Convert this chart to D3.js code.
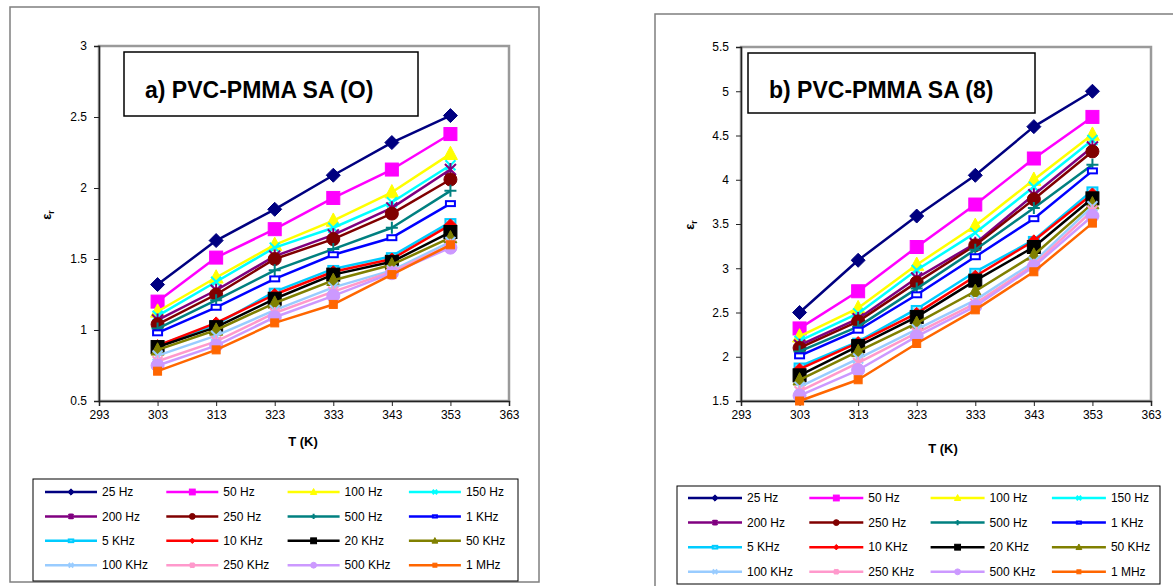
<!DOCTYPE html>
<html><head><meta charset="utf-8">
<script src="https://cdn.jsdelivr.net/npm/d3@7"></script>
<style>
html,body{margin:0;padding:0;background:#fff;}
svg{display:block;font-family:"Liberation Sans",Arial,sans-serif;}
.tick text{font-size:12px;font-family:"Liberation Sans",Arial,sans-serif;fill:#000;}
</style></head>
<body>
<svg id="chart" width="1173" height="586"></svg>
<script>
// ---------- DATA ----------
const temps = [303, 313, 323, 333, 343, 353];
const xTicks = [293, 303, 313, 323, 333, 343, 353, 363];
const yTicksA = [0.5, 1, 1.5, 2, 2.5, 3];
const yTicksB = [1.5, 2, 2.5, 3, 3.5, 4, 4.5, 5, 5.5];
const freqLabels = ["25 Hz","50 Hz","100 Hz","150 Hz","200 Hz","250 Hz","500 Hz","1 KHz",
                    "5 KHz","10 KHz","20 KHz","50 KHz","100 KHz","250 KHz","500 KHz","1 MHz"];
// panel a) PVC-PMMA SA (O): one row per frequency, values at temps
const epsA = [
  [1.32,1.63,1.85,2.09,2.32,2.51],
  [1.20,1.51,1.71,1.93,2.13,2.38],
  [1.13,1.37,1.60,1.77,1.97,2.24],
  [1.10,1.34,1.58,1.72,1.90,2.16],
  [1.07,1.28,1.52,1.67,1.86,2.13],
  [1.04,1.25,1.50,1.64,1.82,2.06],
  [1.01,1.21,1.42,1.57,1.72,1.98],
  [0.98,1.16,1.36,1.53,1.65,1.89],
  [0.89,1.04,1.27,1.43,1.52,1.76],
  [0.89,1.05,1.25,1.41,1.50,1.74],
  [0.88,1.02,1.22,1.39,1.48,1.69],
  [0.86,1.00,1.19,1.35,1.46,1.65],
  [0.82,0.96,1.14,1.30,1.42,1.62],
  [0.78,0.92,1.12,1.27,1.41,1.60],
  [0.75,0.89,1.09,1.24,1.40,1.58],
  [0.71,0.86,1.05,1.18,1.39,1.60]
];
// panel b) PVC-PMMA SA (8)
const epsB = [
  [2.50,3.09,3.59,4.05,4.60,5.00],
  [2.32,2.74,3.24,3.72,4.24,4.71],
  [2.23,2.55,3.04,3.48,4.00,4.51],
  [2.18,2.49,2.98,3.40,3.92,4.45],
  [2.13,2.43,2.89,3.28,3.83,4.37],
  [2.10,2.40,2.84,3.26,3.78,4.32],
  [2.06,2.34,2.77,3.21,3.68,4.17],
  [2.01,2.30,2.70,3.13,3.56,4.10],
  [1.89,2.17,2.54,2.96,3.32,3.88],
  [1.86,2.16,2.49,2.91,3.31,3.84],
  [1.79,2.12,2.45,2.86,3.24,3.79],
  [1.74,2.06,2.38,2.74,3.15,3.73],
  [1.66,1.98,2.31,2.64,3.07,3.70],
  [1.61,1.93,2.27,2.60,3.04,3.65],
  [1.56,1.85,2.23,2.57,3.02,3.59],
  [1.50,1.74,2.15,2.53,2.96,3.51]
];

// ---------- STYLES ----------
const colors = ["#000080","#FF00FF","#FFFF00","#00FFFF","#800080","#800000","#008080","#0000FF",
                "#00CCFF","#FF0000","#000000","#808000","#99CCFF","#FF99CC","#CC99FF","#FF6600"];
const markers = ["diamond","square","triangle","x","star","circle","plus","dash",
                 "longdash","diamond","square","triangle","x","star","circle","square"];
const msizes = [7,6.5,7,5,5.5,6.5,6,4.5, 5,6,6.5,6.5,5,5,6.5,4];

const svg = d3.select("#chart");

function drawMarker(g, type, x, y, r, color) {
  if (type === "diamond") {
    g.append("path").attr("d", `M${x},${y-r}L${x+r},${y}L${x},${y+r}L${x-r},${y}Z`).attr("fill", color).attr("stroke", color);
  } else if (type === "square") {
    g.append("rect").attr("x", x-r).attr("y", y-r).attr("width", 2*r).attr("height", 2*r).attr("fill", color).attr("stroke", color);
  } else if (type === "triangle") {
    g.append("path").attr("d", `M${x},${y-r*1.1}L${x+r},${y+r*0.8}L${x-r},${y+r*0.8}Z`).attr("fill", color).attr("stroke", color);
  } else if (type === "circle") {
    g.append("circle").attr("cx", x).attr("cy", y).attr("r", r).attr("fill", color).attr("stroke", color);
  } else if (type === "x") {
    g.append("path").attr("d", `M${x-r},${y-r}L${x+r},${y+r}M${x-r},${y+r}L${x+r},${y-r}`).attr("stroke", color).attr("stroke-width", 2).attr("fill", "none");
  } else if (type === "star") {
    g.append("path").attr("d", `M${x-r},${y-r}L${x+r},${y+r}M${x-r},${y+r}L${x+r},${y-r}M${x},${y-r*1.2}L${x},${y+r*1.2}`).attr("stroke", color).attr("stroke-width", 2).attr("fill", "none");
  } else if (type === "plus") {
    g.append("path").attr("d", `M${x-r},${y}L${x+r},${y}M${x},${y-r}L${x},${y+r}`).attr("stroke", color).attr("stroke-width", 2).attr("fill", "none");
  } else if (type === "dash") {
    g.append("rect").attr("x", x-r).attr("y", y-r*0.55).attr("width", 2*r).attr("height", r*1.1).attr("fill", "#fff").attr("stroke", color).attr("stroke-width", 2);
  } else if (type === "longdash") {
    g.append("rect").attr("x", x-r).attr("y", y-r*0.6).attr("width", 2*r).attr("height", r*1.2).attr("fill", "#99e6ff").attr("stroke", color).attr("stroke-width", 2);
  }
}

function drawPanel(cfg) {
  const g = svg.append("g");
  // outer frame
  g.append("rect").attr("x", cfg.frame[0]).attr("y", cfg.frame[1]).attr("width", cfg.frame[2]).attr("height", cfg.frame[3])
    .attr("fill", "#fff").attr("stroke", "#7f7f7f").attr("stroke-width", 1.5);

  const x = d3.scaleLinear().domain([293, 363]).range([cfg.plot[0], cfg.plot[1]]);
  const y = d3.scaleLinear().domain(cfg.yDomain).range([cfg.plot[3], cfg.plot[2]]);

  // plot area border
  g.append("rect").attr("x", cfg.plot[0]).attr("y", cfg.plot[2]).attr("width", cfg.plot[1]-cfg.plot[0]).attr("height", cfg.plot[3]-cfg.plot[2])
    .attr("fill", "none").attr("stroke", "#9a9a9a").attr("stroke-width", 2.5);

  // axes
  const xa = g.append("g").attr("transform", `translate(0,${cfg.plot[3]})`)
    .call(d3.axisBottom(x).tickValues(xTicks).tickFormat(d3.format("d")).tickSize(5).tickPadding(4));
  const ya = g.append("g").attr("transform", `translate(${cfg.plot[0]},0)`)
    .call(d3.axisLeft(y).tickValues(cfg.yTicks).tickFormat(d => String(d)).tickSize(5).tickPadding(7));
  [xa, ya].forEach(a => {
    a.attr("font-size", 12).attr("font-family", "Liberation Sans, Arial, sans-serif");
    a.select(".domain").attr("stroke", "#222").attr("stroke-width", 1.5);
    a.selectAll(".tick line").attr("stroke", "#222");
    a.selectAll("text").attr("fill", "#000");
  });

  // axis titles
  g.append("text").attr("x", cfg.xLab[0]).attr("y", cfg.xLab[1]).attr("text-anchor", "middle")
    .attr("font-size", 13).attr("font-weight", "bold").text("T (K)");
  const yl = g.append("text").attr("transform", `translate(${cfg.yLab[0]},${cfg.yLab[1]}) rotate(-90)`)
    .attr("text-anchor", "middle").attr("font-size", 13).attr("font-weight", "bold");
  yl.append("tspan").text("ε");
  yl.append("tspan").attr("font-size", 9).attr("dy", 3).text("r");

  // series
  const line = d3.line().x((d, i) => x(temps[i])).y(d => y(d));
  cfg.data.forEach((vals, si) => {
    g.append("path").datum(vals).attr("d", line).attr("fill", "none")
      .attr("stroke", colors[si]).attr("stroke-width", 2.5).attr("stroke-linejoin", "round");
    const mg = g.append("g");
    vals.forEach((v, i) => drawMarker(mg, markers[si], x(temps[i]), y(v), msizes[si], colors[si]));
  });

  // title box
  g.append("rect").attr("x", cfg.tbox[0]).attr("y", cfg.tbox[1]).attr("width", cfg.tbox[2]).attr("height", cfg.tbox[3])
    .attr("fill", "#fff").attr("stroke", "#000").attr("stroke-width", 1.5);
  g.append("text").attr("x", cfg.tText[0]).attr("y", cfg.tText[1]).attr("font-size", 23).attr("font-weight", "bold")
    .attr("fill", "#000").text(cfg.title);

  // legend
  const L = cfg.legend;
  g.append("rect").attr("x", L.box[0]).attr("y", L.box[1]).attr("width", L.box[2]).attr("height", L.box[3])
    .attr("fill", "#fff").attr("stroke", "#000").attr("stroke-width", 1);
  freqLabels.forEach((lab, i) => {
    const col = i % 4, row = Math.floor(i / 4);
    const lx = L.x0 + col * L.dx, ly = L.y0 + row * L.dy;
    g.append("line").attr("x1", lx).attr("x2", lx + L.len).attr("y1", ly).attr("y2", ly)
      .attr("stroke", colors[i]).attr("stroke-width", 2.5);
    drawMarker(g, markers[i], lx + L.len/2, ly, Math.max(2, msizes[i]*0.45), colors[i]);
    g.append("text").attr("x", lx + L.len + 5).attr("y", ly).attr("dy", "0.35em")
      .attr("font-size", 12).attr("fill", "#000").text(lab);
  });
}

drawPanel({
  frame: [10, 7, 529, 575],
  plot: [99, 509, 46, 401],
  yDomain: [0.5, 3], yTicks: yTicksA,
  xLab: [303, 446], yLab: [51, 215],
  data: epsA,
  tbox: [124, 52, 294, 64], tText: [145, 98], title: "a) PVC-PMMA SA (O)",
  legend: { box: [33, 479, 485, 102], x0: 45, y0: 492, dx: 121.3, dy: 24.4, len: 52 }
});
drawPanel({
  frame: [655, 14, 600, 620],
  plot: [741, 1151, 47, 401],
  yDomain: [1.5, 5.5], yTicks: yTicksB,
  xLab: [943, 453], yLab: [694, 225],
  data: epsB,
  tbox: [748, 53, 287, 60], tText: [769, 98], title: "b) PVC-PMMA SA (8)",
  legend: { box: [677, 486, 483, 98], x0: 688, y0: 498, dx: 121.3, dy: 24.6, len: 54 }
});
</script>
</body></html>
